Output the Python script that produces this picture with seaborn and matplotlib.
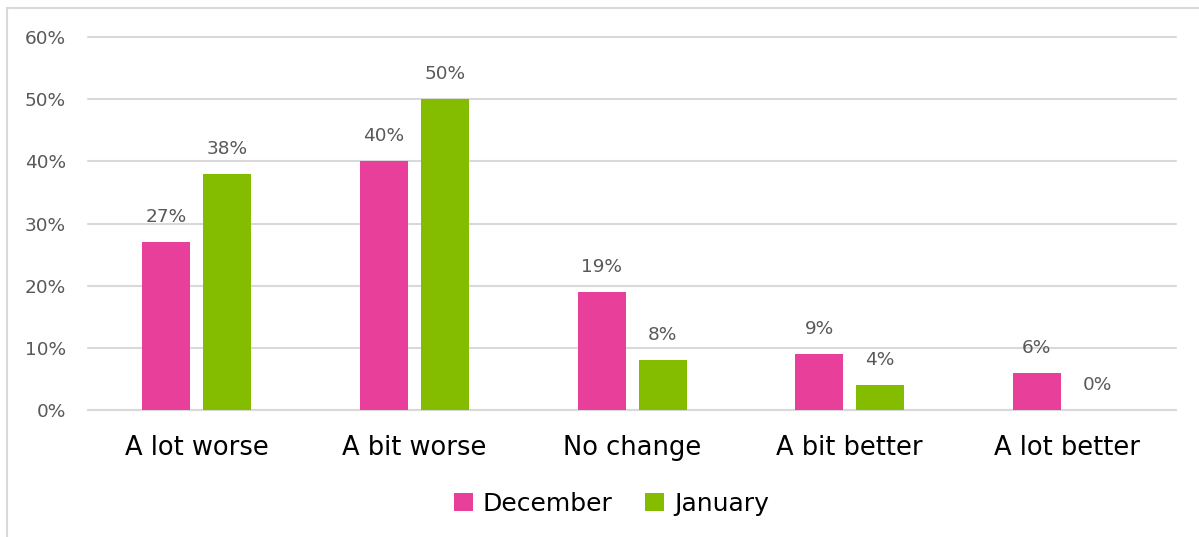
import matplotlib
matplotlib.use("Agg")
import matplotlib.pyplot as plt
from matplotlib.patches import Rectangle, Patch
import seaborn as sns
import pandas as pd

categories = ["A lot worse", "A bit worse", "No change", "A bit better", "A lot better"]
december = [27, 40, 19, 9, 6]
january = [38, 50, 8, 4, 0]
series_names = ["December", "January"]
y_ticks = [0, 10, 20, 30, 40, 50, 60]

colors = ["#E8409A", "#84BD00"]
grid_color = "#D9D9D9"
tick_color = "#595959"

df = pd.DataFrame({
    "category": categories * 2,
    "value": december + january,
    "series": [series_names[0]] * len(categories) + [series_names[1]] * len(categories),
})

sns.set_theme(style="white")
plt.rcParams["font.family"] = ["DejaVu Sans"]

fig = plt.figure(figsize=(11.99, 5.37), dpi=100)
ax = fig.add_axes([0.0734, 0.2365, 0.9076, 0.6945])

sns.barplot(data=df, x="category", y="value", hue="series", order=categories,
            hue_order=series_names, palette=colors, width=0.56, dodge=True,
            saturation=1, errorbar=None, ax=ax, legend=False, zorder=3)

# narrow each bar around its own centre to leave a gap inside each group
bar_w = 0.22
for p in ax.patches:
    cx = p.get_x() + p.get_width() / 2
    p.set_x(cx - bar_w / 2)
    p.set_width(bar_w)
    p.set_linewidth(0)

# value labels above each bar
for p in ax.patches:
    h = p.get_height()
    ax.annotate(f"{h:.0f}%", (p.get_x() + p.get_width() / 2, h),
                xytext=(0, 11.5), textcoords="offset points",
                ha="center", va="bottom", fontsize=13.3, color=tick_color)

ax.set_xlim(-0.5, len(categories) - 0.5)
ax.set_ylim(0, 60)
ax.set_yticks(y_ticks)
ax.set_yticklabels([f"{t}%" for t in y_ticks])
ax.yaxis.grid(True, color=grid_color, linewidth=1.5, zorder=0)
for gl in ax.get_ygridlines():
    gl.set_clip_on(False)
ax.xaxis.grid(False)
ax.set_axisbelow(True)
for s in ["top", "right", "left"]:
    ax.spines[s].set_visible(False)
ax.spines["bottom"].set_color(grid_color)
ax.spines["bottom"].set_linewidth(1.5)
ax.tick_params(axis="y", length=0, pad=16, labelsize=13.3, labelcolor=tick_color)
ax.tick_params(axis="x", length=0, pad=18, labelsize=18.5, labelcolor="black")
ax.set_xlabel("")
ax.set_ylabel("")

handles = [Patch(facecolor=c, edgecolor="none") for c in colors]
leg = fig.legend(handles, series_names, loc="center", bbox_to_anchor=(0.51, 0.062),
                 ncol=2, frameon=False, fontsize=18, handlelength=0.75,
                 handleheight=0.75, handletextpad=0.4, columnspacing=1.3)
for t in leg.get_texts():
    t.set_color("black")

# light outer frame of the chart
fig.patches.append(Rectangle((7 / 1199, -0.1), 1.2, 1 - 8 / 537 + 0.1,
                             transform=fig.transFigure, fill=False,
                             edgecolor=grid_color, linewidth=1.5))

fig.savefig("out.png", dpi=100, facecolor="white")
